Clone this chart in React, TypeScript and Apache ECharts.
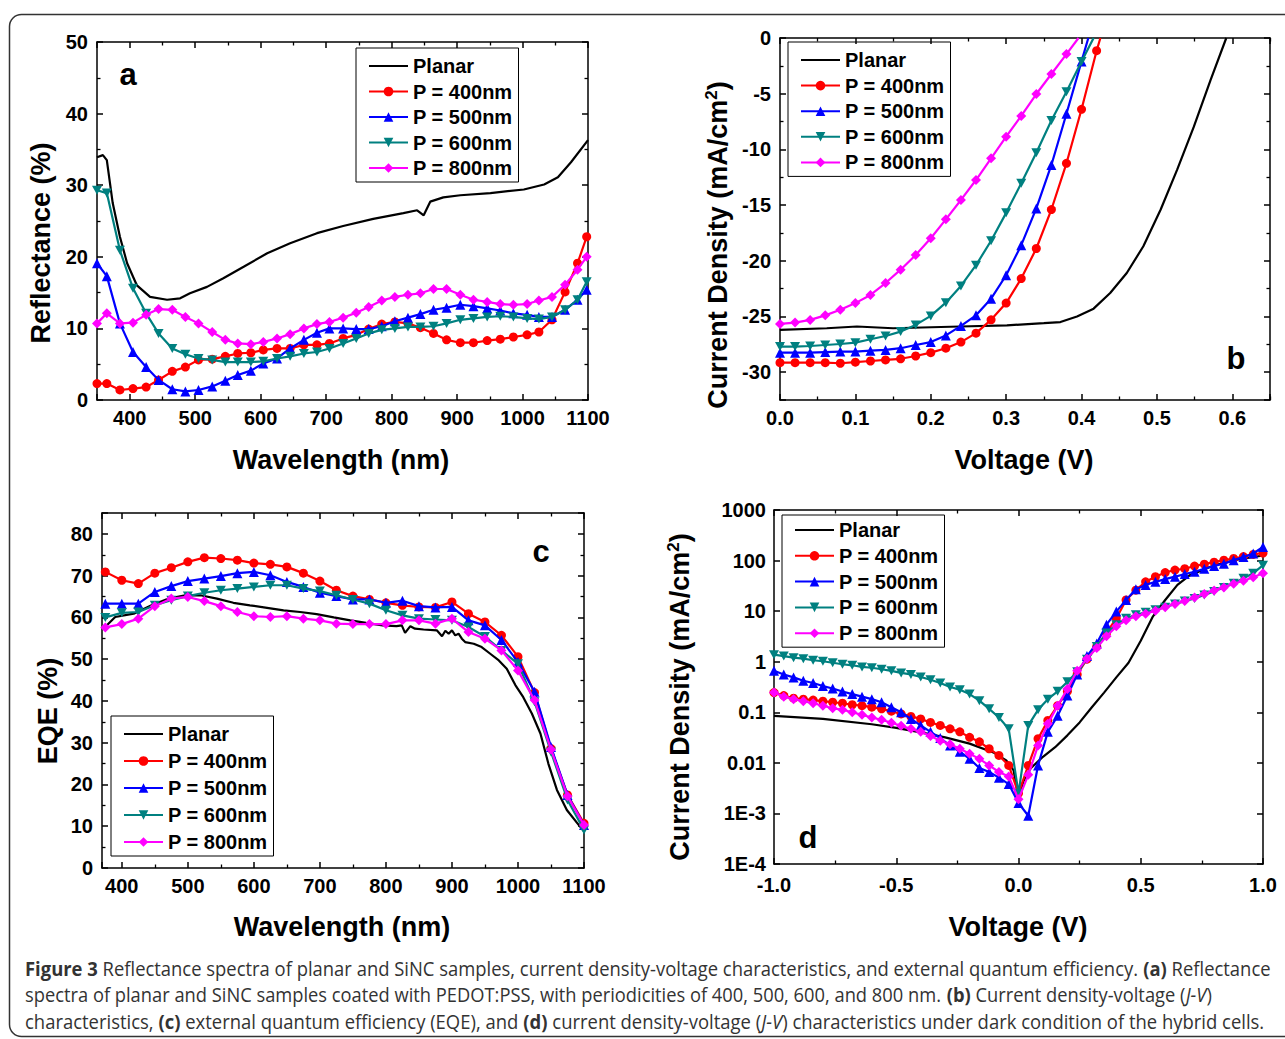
import React, { useEffect, useRef } from 'react';
import * as echarts from 'echarts';

const FONT = "'Liberation Sans', Arial, Helvetica, sans-serif";
const CAP_FONT = "'Liberation Sans Narrow', 'Open Sans', sans-serif";

const NAMES = ['Planar', 'P = 400nm', 'P = 500nm', 'P = 600nm', 'P = 800nm'];
const COLORS = ['#000000', '#ff0000', '#0000ff', '#008080', '#ff00ff'];
const SYMBOLS = ['none', 'circle', 'triangle', 'path://M0,0L10,0L5,8.7Z', 'diamond'];
const SYMBOL_SIZES: any[] = [0, 9, 10, [10, 9], 10];

// ---------- Panel a: reflectance ----------
const aPlanarX = [350, 359, 365, 374, 385, 396, 411, 431, 457, 477, 492, 518, 543, 574, 610, 645, 686, 726, 772, 818, 839, 849, 859, 879, 905, 951, 1002, 1033, 1054, 1074, 1100];
const aPlanarY = [33.9, 34.2, 33.5, 27.5, 22.8, 19.1, 16.0, 14.4, 14.0, 14.2, 14.9, 15.8, 17.0, 18.6, 20.5, 21.9, 23.3, 24.3, 25.3, 26.1, 26.5, 25.8, 27.7, 28.3, 28.6, 28.9, 29.4, 30.1, 31.1, 33.2, 36.3];
const aX = [350, 365, 385, 405, 425, 444, 465, 485, 505, 526, 546, 565, 585, 604, 625, 645, 666, 686, 705, 726, 746, 765, 785, 805, 825, 844, 864, 884, 905, 925, 946, 966, 986, 1007, 1025, 1045, 1065, 1084, 1098];
const a400 = [2.3, 2.3, 1.4, 1.6, 1.8, 2.8, 4.0, 4.6, 5.6, 5.7, 6.1, 6.5, 6.6, 7.0, 7.2, 7.2, 7.7, 7.7, 7.9, 8.6, 9.1, 9.9, 10.6, 10.9, 10.7, 10.1, 9.3, 8.4, 8.0, 8.0, 8.3, 8.5, 8.8, 9.1, 9.5, 11.2, 15.1, 19.1, 22.8];
const a500 = [19.1, 17.3, 10.7, 6.7, 4.6, 2.8, 1.5, 1.2, 1.4, 1.9, 2.7, 3.5, 4.1, 5.1, 5.8, 7.2, 8.4, 9.4, 10.0, 10.0, 9.9, 9.9, 10.3, 11.0, 11.5, 12.0, 12.6, 12.9, 13.3, 13.1, 12.8, 12.5, 12.1, 11.9, 11.6, 11.6, 12.6, 14.0, 15.4];
const a600 = [29.3, 28.9, 20.9, 15.6, 12.1, 9.3, 7.2, 6.4, 5.8, 5.6, 5.3, 5.3, 5.3, 5.4, 5.8, 6.1, 6.5, 6.7, 7.2, 7.9, 8.6, 9.3, 9.8, 10.0, 10.2, 10.2, 10.3, 10.7, 11.2, 11.4, 11.6, 11.7, 11.6, 11.4, 11.3, 11.6, 12.6, 14.0, 16.5];
const a800 = [10.7, 12.1, 10.7, 10.8, 11.9, 12.7, 12.6, 11.6, 10.7, 9.5, 8.4, 7.9, 7.8, 8.1, 8.6, 9.2, 10.0, 10.6, 10.9, 11.5, 12.2, 13.0, 13.9, 14.4, 14.7, 14.9, 15.5, 15.5, 14.7, 14.0, 13.7, 13.4, 13.3, 13.4, 13.9, 14.4, 16.1, 18.2, 20.0];

// ---------- Panel b: J-V under illumination ----------
const bPlanarV = [0, 0.062, 0.102, 0.15, 0.239, 0.301, 0.35, 0.372, 0.394, 0.416, 0.438, 0.46, 0.482, 0.505, 0.527, 0.549, 0.571, 0.592];
const bPlanarJ = [-26.2, -26.06, -25.9, -26.06, -25.9, -25.8, -25.6, -25.5, -25.0, -24.3, -22.9, -21.1, -18.7, -15.4, -11.8, -7.96, -3.8, 0];
const bV = [0, 0.02, 0.04, 0.06, 0.08, 0.1, 0.12, 0.14, 0.16, 0.18, 0.2, 0.22, 0.24, 0.26, 0.28, 0.3, 0.32, 0.34, 0.36, 0.38, 0.4, 0.42];
const b400 = [-29.15, -29.15, -29.15, -29.15, -29.2, -29.1, -29.0, -28.9, -28.8, -28.55, -28.25, -27.85, -27.3, -26.5, -25.3, -23.8, -21.6, -18.9, -15.4, -11.25, -6.4, -1.14];
const b500 = [-28.25, -28.25, -28.25, -28.2, -28.15, -28.15, -28.07, -28.0, -27.85, -27.56, -27.3, -26.7, -25.85, -24.9, -23.4, -21.3, -18.6, -15.3, -11.4, -6.8, -2.1];
const b600 = [-27.7, -27.7, -27.65, -27.56, -27.47, -27.35, -27.05, -26.75, -26.36, -25.76, -24.95, -23.76, -22.26, -20.4, -18.2, -15.7, -13.05, -10.3, -7.4, -4.82, -2.12];
const b800 = [-25.67, -25.55, -25.31, -24.9, -24.4, -23.8, -23.07, -22.0, -20.8, -19.48, -17.98, -16.28, -14.54, -12.75, -10.8, -8.86, -7.0, -5.03, -3.23, -1.44];
// voltage where each P-series curve meets J = 0 (line continues to the top edge)
const bZeroV = [0, 0.425, 0.409, 0.416, 0.396];

// ---------- Panel c: EQE ----------
const cPlanarX = [372, 390, 418, 445, 471, 496, 519, 544, 569, 594, 620, 645, 670, 695, 721, 746, 770, 795, 816, 824, 829, 837, 844, 857, 877, 885, 890, 895, 900, 905, 910, 915, 920, 933, 945, 958, 971, 983, 996, 1008, 1021, 1034, 1046, 1059, 1074, 1094, 1100];
const cPlanarY = [57.3, 60.1, 60.9, 62.9, 64.5, 65.3, 65.3, 64.5, 63.5, 62.9, 62.3, 61.7, 61.3, 60.8, 60.0, 59.3, 58.7, 58.1, 57.9, 58.1, 56.3, 57.9, 57.3, 57.1, 56.9, 55.5, 56.8, 56.1, 56.9, 55.7, 56.1, 54.9, 54.1, 53.7, 52.9, 51.3, 49.7, 47.7, 43.8, 40.9, 37.0, 32.2, 25.0, 18.7, 13.9, 9.9, 8.8];
const cX = [375, 400, 425, 450, 475, 500, 525, 550, 575, 600, 625, 650, 675, 700, 725, 750, 775, 800, 825, 850, 875, 900, 925, 950, 975, 1000, 1025, 1050, 1075, 1100];
const c400 = [70.9, 68.9, 68.1, 70.6, 71.9, 73.3, 74.3, 74.1, 73.7, 73.0, 72.7, 72.1, 70.6, 68.7, 66.5, 65.1, 64.3, 63.5, 62.9, 62.5, 62.4, 63.7, 60.9, 58.9, 55.7, 50.6, 42.0, 28.6, 17.5, 10.7];
const c500 = [63.3, 63.3, 63.3, 66.1, 67.5, 68.7, 69.3, 69.9, 70.6, 70.9, 70.1, 68.5, 67.3, 65.9, 65.1, 64.3, 64.3, 63.5, 64.0, 62.7, 62.4, 62.5, 59.3, 58.1, 54.6, 49.3, 42.2, 29.0, 17.5, 10.3];
const c600 = [60.0, 61.1, 61.3, 62.9, 64.1, 65.1, 65.9, 66.5, 66.9, 67.3, 67.7, 67.7, 66.9, 66.3, 65.3, 64.3, 63.3, 61.7, 60.5, 59.7, 59.5, 59.3, 57.7, 55.4, 52.1, 48.9, 39.8, 27.8, 16.3, 9.1];
const c800 = [57.6, 58.4, 59.7, 62.7, 64.5, 64.9, 63.9, 62.7, 61.3, 60.3, 60.1, 60.3, 59.7, 59.3, 58.5, 58.4, 58.4, 58.4, 59.3, 59.3, 58.5, 59.7, 56.5, 54.9, 52.1, 47.3, 40.2, 28.4, 17.2, 10.3];

// ---------- Panel d: dark J-V (log) ----------
const dPlanarV = [-1, -0.8, -0.6, -0.5, -0.4, -0.3, -0.2, -0.1, -0.05, -0.02, 0, 0.02, 0.05, 0.1, 0.15, 0.2, 0.25, 0.3, 0.35, 0.4, 0.45, 0.5, 0.55, 0.6, 0.65, 0.7, 0.8, 0.9, 1.0];
const dPlanarJ = [0.085, 0.074, 0.058, 0.049, 0.04, 0.032, 0.024, 0.0158, 0.0112, 0.0071, 0.002, 0.0043, 0.0078, 0.0132, 0.0204, 0.035, 0.063, 0.126, 0.245, 0.49, 0.955, 2.6, 7.9, 16.6, 33, 51, 81, 105, 126];
const dV = [-1, -0.96, -0.92, -0.88, -0.84, -0.8, -0.76, -0.72, -0.68, -0.64, -0.6, -0.56, -0.52, -0.48, -0.44, -0.4, -0.36, -0.32, -0.28, -0.24, -0.2, -0.16, -0.12, -0.08, -0.04, 0, 0.04, 0.08, 0.12, 0.16, 0.2, 0.24, 0.28, 0.32, 0.36, 0.4, 0.44, 0.48, 0.52, 0.56, 0.6, 0.64, 0.68, 0.72, 0.76, 0.8, 0.84, 0.88, 0.92, 0.96, 1.0];
const d400 = [0.245, 0.214, 0.19, 0.182, 0.174, 0.166, 0.158, 0.151, 0.141, 0.135, 0.126, 0.117, 0.105, 0.093, 0.083, 0.074, 0.063, 0.055, 0.047, 0.041, 0.032, 0.026, 0.019, 0.014, 0.0089, 0.0025, 0.0089, 0.030, 0.069, 0.135, 0.26, 0.56, 1.12, 2.0, 3.7, 7.2, 16.6, 26, 38, 48, 58, 65, 69, 78, 85, 93, 102, 110, 120, 132, 141];
const d500 = [0.66, 0.56, 0.49, 0.42, 0.38, 0.33, 0.295, 0.257, 0.229, 0.204, 0.182, 0.158, 0.126, 0.1, 0.074, 0.055, 0.041, 0.031, 0.022, 0.0166, 0.012, 0.0079, 0.0066, 0.0051, 0.0038, 0.0016, 0.0009, 0.0089, 0.041, 0.085, 0.214, 0.56, 1.29, 2.3, 5.4, 9.8, 16.6, 27, 33, 38, 43, 48, 54, 60, 69, 78, 87, 102, 117, 138, 186];
const d600 = [1.38, 1.29, 1.2, 1.15, 1.07, 1.02, 0.955, 0.89, 0.85, 0.79, 0.76, 0.71, 0.66, 0.60, 0.56, 0.50, 0.44, 0.38, 0.316, 0.28, 0.229, 0.17, 0.117, 0.079, 0.047, 0.0025, 0.055, 0.112, 0.182, 0.26, 0.40, 0.63, 1.12, 2.0, 3.7, 5.4, 7.2, 8.5, 9.5, 10.7, 12.0, 13.8, 15.8, 17.8, 20.9, 24.5, 29.5, 35.5, 44.7, 56, 81];
const d800 = [0.245, 0.204, 0.182, 0.166, 0.151, 0.135, 0.12, 0.112, 0.1, 0.089, 0.079, 0.071, 0.062, 0.054, 0.047, 0.041, 0.034, 0.0275, 0.0234, 0.019, 0.0151, 0.012, 0.0089, 0.0066, 0.0054, 0.0019, 0.0058, 0.022, 0.059, 0.135, 0.29, 0.66, 1.15, 1.86, 3.2, 5.0, 6.6, 7.9, 8.9, 10.2, 12.0, 13.8, 15.8, 18.6, 21.9, 25.7, 29.5, 34.7, 39.8, 46.8, 56];

// ---------- Caption ----------
type Seg = [string, string];
const CAPTION: Seg[][] = [
  [['Figure 3', 'b'], [' Reflectance spectra of planar and SiNC samples, current density-voltage characteristics, and external quantum efficiency. ', 'n'], ['(a)', 'b'], [' Reflectance', 'n']],
  [['spectra of planar and SiNC samples coated with PEDOT:PSS, with periodicities of 400, 500, 600, and 800 nm. ', 'n'], ['(b)', 'b'], [' Current density-voltage (', 'n'], ['J-V', 'i'], [')', 'n']],
  [['characteristics, ', 'n'], ['(c)', 'b'], [' external quantum efficiency (EQE), and ', 'n'], ['(d)', 'b'], [' current density-voltage (', 'n'], ['J-V', 'i'], [') characteristics under dark condition of the hybrid cells.', 'n']],
];
const CAPTION_Y = [968, 995, 1021];
const CAPTION_W = [1246, 1187, 1240];
const CAP_SIZE = 20;

function segFont(style: string) {
  return `${style === 'i' ? 'italic ' : ''}${style === 'b' ? 'bold ' : ''}${CAP_SIZE}px ${CAP_FONT}`;
}

function measureLine(segs: Seg[]) {
  const ctx = document.createElement('canvas').getContext('2d');
  if (!ctx) return 0;
  let w = 0;
  for (const [t, s] of segs) {
    ctx.font = segFont(s);
    w += ctx.measureText(t).width;
  }
  return w;
}

function lineSeries(k: number, grid: number, xs: number[], ys: number[], tail?: number[]) {
  const data: any[] = xs.map((x, i) => [x, ys[i]]);
  if (tail) data.push({ value: tail, symbol: 'none' });
  return {
    type: 'line',
    name: NAMES[k],
    xAxisIndex: grid * 2,
    yAxisIndex: grid * 2,
    data,
    symbol: SYMBOLS[k],
    symbolSize: SYMBOL_SIZES[k],
    showSymbol: k > 0,
    lineStyle: { color: COLORS[k], width: 2.2 },
    // the plain line (Planar) has no marker: keep its legend marker invisible
    itemStyle: { color: k === 0 ? 'rgba(0,0,0,0)' : COLORS[k] },
    clip: true,
    silent: true,
    z: 2 + k,
  };
}

const labelBase = { fontFamily: FONT, fontWeight: 'bold', fontSize: 20, color: '#000' };

function mkAxis(gridIndex: number, position: string, cfg: any, showLabel: boolean) {
  const ax: any = {
    type: cfg.type || 'value',
    gridIndex,
    position,
    min: cfg.min,
    max: cfg.max,
    axisLine: { show: true, onZero: false, lineStyle: { color: '#000', width: 1.5 } },
    axisTick: { show: true, inside: true, length: 6, lineStyle: { color: '#000', width: 1.5 } },
    minorTick: { show: !!cfg.minor, splitNumber: cfg.minor || 2, length: 3.5, lineStyle: { color: '#000', width: 1.3 } },
    splitLine: { show: false },
    minorSplitLine: { show: false },
    axisLabel: { show: showLabel, margin: cfg.margin, formatter: cfg.fmt, ...labelBase },
  };
  if (cfg.interval != null) ax.interval = cfg.interval;
  if (cfg.step != null) {
    ax.minInterval = cfg.step;
    ax.maxInterval = cfg.step;
  }
  if (cfg.type === 'log') ax.logBase = 10;
  return ax;
}

const fmtHundreds = (v: number) => (Math.abs(v % 100) < 1e-9 ? String(v) : '');
const fmtMultiple = (m: number) => (v: number) => (Math.abs(v / m - Math.round(v / m)) < 1e-6 ? String(Math.round(v)) : '');
const fmtTenths = (v: number) => (Math.abs(v * 10 - Math.round(v * 10)) < 1e-6 ? v.toFixed(1) : '');
const fmtLog = (v: number) => {
  const e = Math.round(Math.log10(v));
  if (e >= 0) return String(Math.pow(10, e));
  if (e === -1) return '0.1';
  if (e === -2) return '0.01';
  return '1E' + e;
};

const AXES = [
  {
    x: { min: 350, max: 1100, step: 100, minor: 2, margin: 8, fmt: fmtHundreds },
    y: { min: 0, max: 50, interval: 10, minor: 2, margin: 9, fmt: fmtMultiple(10) },
  },
  {
    x: { min: 0, max: 0.65, interval: 0.1, minor: 2, margin: 8, fmt: fmtTenths },
    y: { min: -32.5, max: 0, step: 5, minor: 2, margin: 9, fmt: fmtMultiple(5) },
  },
  {
    x: { min: 370, max: 1100, step: 100, minor: 2, margin: 8, fmt: fmtHundreds },
    y: { min: 0, max: 85, step: 10, minor: 2, margin: 9, fmt: fmtMultiple(10) },
  },
  {
    x: { min: -1, max: 1, interval: 0.5, minor: 2, margin: 11, fmt: (v: number) => v.toFixed(1) },
    y: { type: 'log', min: 0.0001, max: 1000, minor: 0, margin: 8, fmt: fmtLog },
  },
];

const GRIDS = [
  { left: 97, top: 42, width: 491, height: 358 },
  { left: 780, top: 38, width: 490, height: 362 },
  { left: 102, top: 513, width: 482, height: 355 },
  { left: 774, top: 510, width: 489, height: 354 },
];

const LEGENDS = [
  { left: 356, top: 48, gap: 5.5, pad: [8, 6, 4, 12] },
  { left: 788, top: 42, gap: 5.6, pad: [8, 6, 4, 12] },
  { left: 111, top: 716, gap: 7, pad: [8, 6, 4, 12] },
  { left: 782, top: 515, gap: 5.8, pad: [5, 6, 4, 12] },
];

function titleText(text: string, x: number, y: number, vertical: boolean) {
  return {
    type: 'text',
    x,
    y,
    rotation: vertical ? Math.PI / 2 : 0,
    silent: true,
    style: {
      text,
      fill: '#000',
      font: `bold 27px ${FONT}`,
      fontFamily: FONT,
      fontSize: 27,
      fontWeight: 'bold',
      align: 'center',
      verticalAlign: 'middle',
      textAlign: 'center',
      textVerticalAlign: 'middle',
      rich: {
        sup: { fontFamily: FONT, fontSize: 17, fontWeight: 'bold', fill: '#000', verticalAlign: 'top', lineHeight: 30 },
        m: { fontFamily: FONT, fontSize: 27, fontWeight: 'bold', fill: '#000', lineHeight: 30 },
      },
    },
  };
}

function letterText(text: string, x: number, y: number) {
  return {
    type: 'text',
    x,
    y,
    silent: true,
    style: {
      text,
      fill: '#000',
      font: `bold 31px ${FONT}`,
      align: 'center',
      verticalAlign: 'middle',
      textAlign: 'center',
      textVerticalAlign: 'middle',
    },
  };
}

export default function App() {
  const ref = useRef<HTMLDivElement>(null);

  useEffect(() => {
    if (!ref.current) return;
    const chart = echarts.init(ref.current, undefined, { renderer: 'svg' });

    const xAxis: any[] = [];
    const yAxis: any[] = [];
    AXES.forEach((a, g) => {
      xAxis.push(mkAxis(g, 'bottom', a.x, true));
      xAxis.push(mkAxis(g, 'top', a.x, false));
      yAxis.push(mkAxis(g, 'left', a.y, true));
      yAxis.push(mkAxis(g, 'right', a.y, false));
    });

    const series: any[] = [
      lineSeries(0, 0, aPlanarX, aPlanarY),
      lineSeries(1, 0, aX, a400),
      lineSeries(2, 0, aX, a500),
      lineSeries(3, 0, aX, a600),
      lineSeries(4, 0, aX, a800),

      lineSeries(0, 1, bPlanarV, bPlanarJ),
      lineSeries(1, 1, bV.slice(0, b400.length), b400, [bZeroV[1], 0]),
      lineSeries(2, 1, bV.slice(0, b500.length), b500, [bZeroV[2], 0]),
      lineSeries(3, 1, bV.slice(0, b600.length), b600, [bZeroV[3], 0]),
      lineSeries(4, 1, bV.slice(0, b800.length), b800, [bZeroV[4], 0]),

      lineSeries(0, 2, cPlanarX, cPlanarY),
      lineSeries(1, 2, cX, c400),
      lineSeries(2, 2, cX, c500),
      lineSeries(3, 2, cX, c600),
      lineSeries(4, 2, cX, c800),

      lineSeries(0, 3, dPlanarV, dPlanarJ),
      lineSeries(1, 3, dV, d400),
      lineSeries(2, 3, dV, d500),
      lineSeries(3, 3, dV, d600),
      lineSeries(4, 3, dV, d800),
    ];

    const legend = LEGENDS.map((l) => ({
      show: true,
      orient: 'vertical',
      left: l.left,
      top: l.top,
      data: NAMES,
      itemWidth: 39,
      itemHeight: 12,
      itemGap: l.gap,
      selectedMode: false,
      borderColor: '#000',
      borderWidth: 1,
      borderRadius: 0,
      padding: l.pad,
      backgroundColor: 'transparent',
      textStyle: { fontFamily: FONT, fontWeight: 'bold', fontSize: 20, color: '#000' },
    }));

    const captionRich: any = {
      n: { fontFamily: CAP_FONT, fontSize: CAP_SIZE, fill: '#333' },
      b: { fontFamily: CAP_FONT, fontSize: CAP_SIZE, fontWeight: 'bold', fill: '#333' },
      i: { fontFamily: CAP_FONT, fontSize: CAP_SIZE, fontStyle: 'italic', fill: '#333' },
    };
    const captionEls = CAPTION.map((segs, i) => {
      const w = measureLine(segs);
      const sx = w > 0 ? CAPTION_W[i] / w : 1;
      return {
        type: 'text',
        x: 25,
        y: CAPTION_Y[i],
        scaleX: sx,
        silent: true,
        style: {
          text: segs.map(([t, s]) => `{${s}|${t}}`).join(''),
          rich: captionRich,
          verticalAlign: 'middle',
          textVerticalAlign: 'middle',
          align: 'left',
          textAlign: 'left',
        },
      };
    });

    const graphic: any[] = [
      {
        type: 'rect',
        silent: true,
        z: -10,
        shape: { x: 9.5, y: 14.5, width: 1320, height: 1022, r: 12 },
        style: { fill: 'none', stroke: '#333', lineWidth: 1.5 },
      },
      titleText('Reflectance (%)', 41, 243, true),
      titleText('Wavelength (nm)', 341, 460, false),
      titleText('{m|Current Density (mA/cm}{sup|2}{m|)}', 718, 245, true),
      titleText('Voltage (V)', 1024, 460, false),
      titleText('EQE (%)', 48, 711, true),
      titleText('Wavelength (nm)', 342, 927, false),
      titleText('{m|Current Density (mA/cm}{sup|2}{m|)}', 680, 697, true),
      titleText('Voltage (V)', 1018, 927, false),
      letterText('a', 128, 74),
      letterText('b', 1236, 358),
      letterText('c', 541, 551),
      letterText('d', 808, 837),
      ...captionEls,
    ];

    chart.setOption({
      animation: false,
      backgroundColor: '#ffffff',
      textStyle: { fontFamily: FONT },
      grid: GRIDS.map((g) => ({ ...g, containLabel: false, outerBoundsMode: 'none' })),
      xAxis,
      yAxis,
      legend,
      series,
      graphic,
    });

    return () => chart.dispose();
  }, []);

  return (
    <div
      ref={ref}
      style={{ position: 'absolute', left: 0, top: 0, width: 1285, height: 1039, background: '#fff' }}
    />
  );
}
